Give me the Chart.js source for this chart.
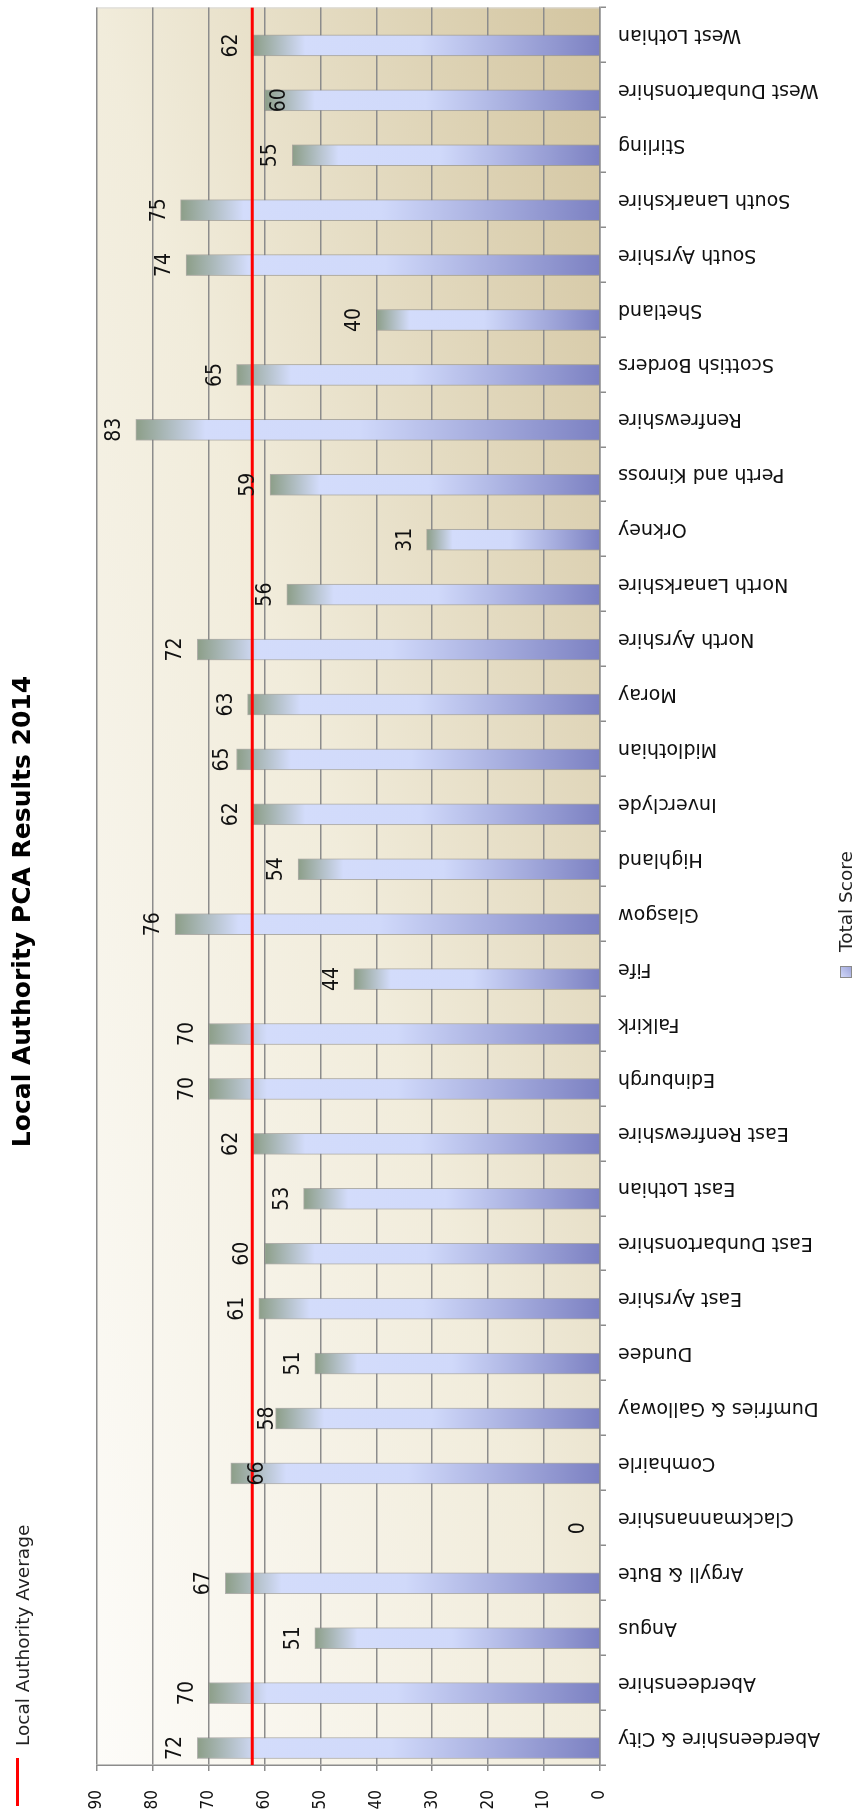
<!DOCTYPE html>
<html>
<head>
<meta charset="utf-8">
<title>Local Authority PCA Results 2014</title>
<script src="https://cdn.jsdelivr.net/npm/chart.js@4.4.1/dist/chart.umd.min.js"></script>
<style>
  html, body { margin: 0; padding: 0; background: #fff; overflow: hidden; width: 859px; height: 1818px; }
  /* the chart is laid out landscape and turned a quarter turn anticlockwise */
  #frame {
    position: absolute; left: 0; top: 0;
    width: 1818px; height: 859px;
    transform-origin: 0 0;
    transform: translate(0, 1818px) rotate(-90deg);
    background: #fff;
  }
  canvas { display: block; }
</style>
</head>
<body>
<div id="frame"><canvas id="pca" width="1818" height="859"></canvas></div>
<script>
// ---- data ----
const authorities = [
  "Aberdeenshire & City", "Aberdeenshire", "Angus", "Argyll & Bute", "Clackmannanshire",
  "Comhairle", "Dumfries & Galloway", "Dundee", "East Ayrshire", "East Dunbartonshire",
  "East Lothian", "East Renfrewshire", "Edinburgh", "Falkirk", "Fife", "Glasgow",
  "Highland", "Inverclyde", "Midlothian", "Moray", "North Ayrshire", "North Lanarkshire",
  "Orkney", "Perth and Kinross", "Renfrewshire", "Scottish Borders", "Shetland",
  "South Ayrshire", "South Lanarkshire", "Stirling", "West Dunbartonshire", "West Lothian"
];
const totalScores = [
  72, 70, 51, 67, 0,
  66, 58, 51, 61, 60,
  53, 62, 70, 70, 44, 76,
  54, 62, 65, 63, 72, 56,
  31, 59, 83, 65, 40,
  74, 75, 55, 60, 62
];
const authorityAverage = 62.2;
const scoreTicks = [0, 10, 20, 30, 40, 50, 60, 70, 80, 90];

const chartTitle = "Local Authority PCA Results 2014";
const barSeriesName = "Total Score";
const lineSeriesName = "Local Authority Average";

// distance in px between a bar's end and its value label (negative = inside the bar)
const labelGap = authorities.map(() => 16);
labelGap[5] = -32;   // Comhairle
labelGap[6] = 3;     // Dumfries & Galloway
labelGap[18] = 9;    // Midlothian
labelGap[30] = -21;  // West Dunbartonshire

// ---- styling ----
const TEXT_FONT = "'DejaVu Sans', 'Noto Sans', sans-serif";
const NUM_FONT = "'Liberation Sans Narrow', 'DejaVu Sans Condensed', sans-serif";
const GRID = '#8c8c8c';
const RED = '#ff0000';

function barGradient(g, top, base) {
  const gr = g.createLinearGradient(0, top, 0, base);
  gr.addColorStop(0, '#8c9e88');
  gr.addColorStop(0.15, '#d3dcfb');
  gr.addColorStop(0.48, '#d0d9fa');
  gr.addColorStop(1, '#7c81c2');
  return gr;
}

// cream-to-tan wash behind the plot, stretched to the plot box
const plotBackground = {
  id: 'plotBackground',
  beforeDraw(chart) {
    const { ctx: g, chartArea: a } = chart;
    g.save();
    g.translate(a.left, a.top);
    g.scale(a.right - a.left, a.bottom - a.top);
    const gr = g.createLinearGradient(0, 0, 1, 1);
    gr.addColorStop(0, '#fdfcf9');
    gr.addColorStop(0.5, '#f1ecdb');
    gr.addColorStop(1, '#d3c5a0');
    g.fillStyle = gr;
    g.fillRect(0, 0, 1, 1);
    g.restore();
    g.save();
    g.strokeStyle = '#d9d9d9';
    g.lineWidth = 1;
    g.beginPath();
    g.moveTo(a.right - 0.5, a.top);
    g.lineTo(a.right - 0.5, a.bottom);
    g.stroke();
    g.restore();
  }
};

// numbers printed past the end of each bar
const valueLabels = {
  id: 'valueLabels',
  afterDatasetsDraw(chart) {
    const meta = chart.getDatasetMeta(0);
    const g = chart.ctx;
    g.save();
    g.font = `21px ${NUM_FONT}`;
    g.fillStyle = '#111';
    g.textAlign = 'center';
    g.textBaseline = 'alphabetic';
    meta.data.forEach((bar, i) => {
      g.fillText(String(totalScores[i]), bar.x, bar.y - labelGap[i]);
    });
    g.restore();
  }
};

// two legend entries: the average line beside the title, the bar series at the foot
const legendEntries = {
  id: 'legendEntries',
  afterDraw(chart) {
    const g = chart.ctx;
    const line = chart.data.datasets[1];
    g.save();
    g.strokeStyle = line.borderColor;
    g.lineWidth = line.borderWidth;
    g.beginPath();
    g.moveTo(12, 17.5);
    g.lineTo(60, 17.5);
    g.stroke();
    g.font = `18.5px ${TEXT_FONT}`;
    g.fillStyle = '#222';
    g.textAlign = 'left';
    g.textBaseline = 'middle';
    g.fillText(line.label, 72, 24);

    const sq = { x: 840, y: 840, s: 12 };
    const gr = g.createLinearGradient(sq.x, sq.y, sq.x + sq.s, sq.y + sq.s);
    gr.addColorStop(0, '#d6ddfb');
    gr.addColorStop(1, '#9aa0d8');
    g.fillStyle = gr;
    g.fillRect(sq.x, sq.y, sq.s, sq.s);
    g.strokeStyle = '#8a8a8a';
    g.lineWidth = 1;
    g.strokeRect(sq.x + 0.5, sq.y + 0.5, sq.s - 1, sq.s - 1);
    g.fillStyle = '#222';
    g.fillText(chart.data.datasets[0].label, 866, 847);
    g.restore();
  }
};

new Chart(document.getElementById('pca'), {
  type: 'bar',
  data: {
    labels: authorities,
    datasets: [
      {
        type: 'bar',
        label: barSeriesName,
        data: totalScores,
        xAxisID: 'x',
        yAxisID: 'y',
        order: 2,
        barThickness: 21,
        borderWidth: 1,
        borderColor: 'rgba(130,130,130,0.6)',
        backgroundColor: (c) => {
          const chart = c.chart;
          if (!chart.chartArea || c.type !== 'data') return '#c6cdf2';
          const y = chart.scales.y;
          const top = y.getPixelForValue(c.parsed.y);
          const base = y.getPixelForValue(0);
          if (base - top < 1) return '#d0d9fa';
          return barGradient(chart.ctx, top, base);
        }
      },
      {
        type: 'line',
        label: lineSeriesName,
        data: [{ x: -0.5, y: authorityAverage }, { x: authorities.length - 0.5, y: authorityAverage }],
        xAxisID: 'xAvg',
        yAxisID: 'y',
        order: 1,
        borderColor: RED,
        borderWidth: 3,
        pointRadius: 0,
        fill: false
      }
    ]
  },
  options: {
    responsive: false,
    animation: false,
    devicePixelRatio: 1,
    layout: { padding: { left: 0, right: 5, top: 0, bottom: 0 } },
    plugins: {
      legend: { display: false },
      tooltip: { enabled: false },
      title: {
        display: true,
        text: chartTitle,
        color: '#000',
        font: { family: TEXT_FONT, size: 25, weight: 'bold', lineHeight: 1.2 },
        padding: { top: 8.5, bottom: 58.2 }
      }
    },
    scales: {
      x: {
        type: 'category',
        offset: true,
        border: { display: true, color: GRID, width: 1.5 },
        grid: { display: true, drawOnChartArea: false, drawTicks: true, tickLength: 6, color: GRID, lineWidth: 1.5, offset: true },
        ticks: {
          autoSkip: false, minRotation: 90, maxRotation: 90, padding: 12,
          color: '#111', font: { family: TEXT_FONT, size: 19 }
        },
        afterFit(scale) { scale.height = 259; }
      },
      xAvg: {
        type: 'linear',
        display: false,
        offset: false,
        bounds: 'ticks',
        grace: 0,
        min: -0.5,
        max: authorities.length - 0.5
      },
      y: {
        type: 'linear',
        min: 0,
        max: 90,
        border: { display: true, color: GRID, width: 1.5 },
        grid: { color: GRID, lineWidth: 1.5, tickLength: 6, drawTicks: true },
        ticks: { padding: 19, color: '#111', font: { family: NUM_FONT, size: 17 } },
        afterBuildTicks(scale) { scale.ticks = scoreTicks.map(v => ({ value: v })); },
        afterFit(scale) { scale.width = 53; }
      }
    }
  },
  plugins: [plotBackground, valueLabels, legendEntries]
});
</script>
</body>
</html>
